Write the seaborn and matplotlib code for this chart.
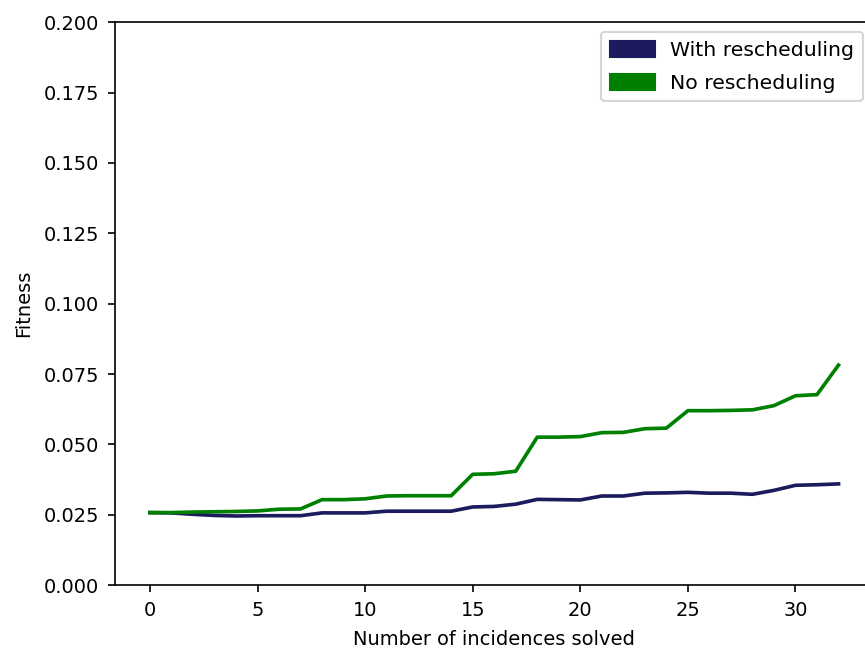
import matplotlib
matplotlib.use("Agg")
import matplotlib.pyplot as plt
import matplotlib.patches as mpatches
import seaborn as sns
import pandas as pd

incidences = list(range(33))
with_resched = [0.0258, 0.0257, 0.0252, 0.0248, 0.0246, 0.0247, 0.0247, 0.0247,
                0.0257, 0.0257, 0.0257, 0.0263, 0.0263, 0.0263, 0.0263, 0.0278,
                0.0280, 0.0288, 0.0305, 0.0304, 0.0303, 0.0317, 0.0317, 0.0327,
                0.0328, 0.0330, 0.0327, 0.0327, 0.0323, 0.0337, 0.0355, 0.0357, 0.0360]
no_resched = [0.0258, 0.0258, 0.0260, 0.0261, 0.0262, 0.0264, 0.0270, 0.0271,
              0.0304, 0.0304, 0.0307, 0.0317, 0.0318, 0.0318, 0.0318, 0.0394,
              0.0396, 0.0405, 0.0526, 0.0526, 0.0528, 0.0542, 0.0543, 0.0556,
              0.0558, 0.0620, 0.0620, 0.0621, 0.0623, 0.0638, 0.0673, 0.0677, 0.0782]
series_names = ["With rescheduling", "No rescheduling"]
colors = ["#1b1b5e", "#008000"]
yticks = [0, 0.025, 0.05, 0.075, 0.1, 0.125, 0.15, 0.175, 0.2]

plt.rcParams["font.family"] = ["DejaVu Sans"]
plt.rcParams["font.size"] = 9.3

df = pd.DataFrame({
    "x": incidences * 2,
    "y": with_resched + no_resched,
    "series": [series_names[0]] * len(incidences) + [series_names[1]] * len(incidences),
})

DPI = 150
fig = plt.figure(figsize=(865 / DPI, 651 / DPI), dpi=DPI)
ax = fig.add_axes([0.1335, 0.101, 0.8757, 0.865])
sns.lineplot(data=df, x="x", y="y", hue="series", palette=colors,
             hue_order=series_names, linewidth=1.75, ax=ax, legend=False)
ax.set_ylim(0, 0.2)
ax.set_yticks(yticks)
ax.set_yticklabels([f"{v:.3f}" for v in yticks])
ax.set_xticks([0, 5, 10, 15, 20, 25, 30])
ax.tick_params(axis="both", pad=4.2)
ax.set_xlabel("Number of incidences solved", labelpad=4.5)
ax.set_ylabel("Fitness", labelpad=5)
handles = [mpatches.Patch(color=c, label=n) for c, n in zip(colors, series_names)]
ax.legend(handles=handles, loc="upper right", fontsize=9.8,
          handlelength=2.2, handleheight=0.82, borderpad=0.42,
          labelspacing=0.68, handletextpad=0.75)
fig.savefig("out.png", dpi=DPI)
